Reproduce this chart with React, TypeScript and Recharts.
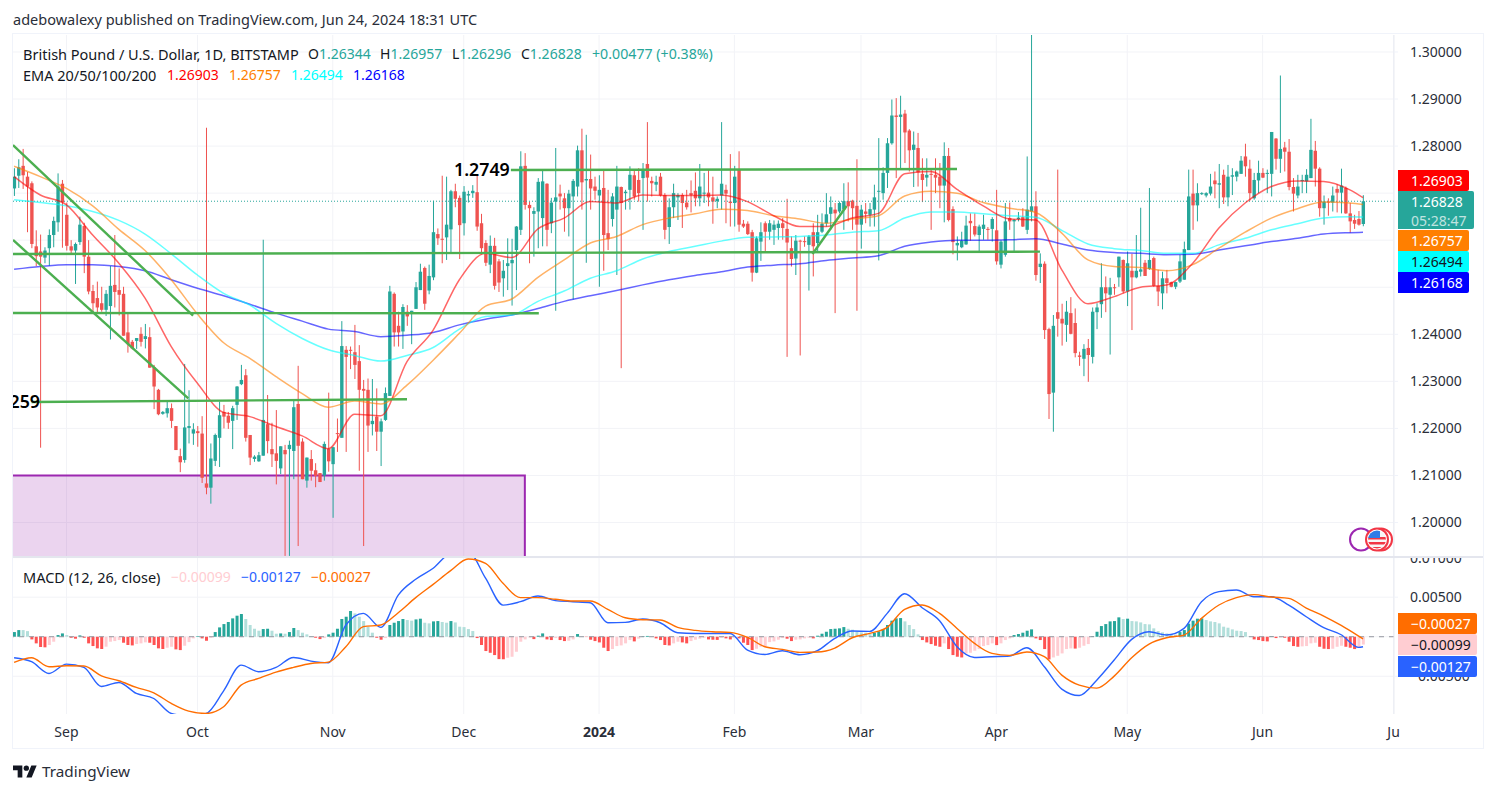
import React from 'react';
import { ComposedChart, Bar, Line, Cell, XAxis, YAxis, CartesianGrid, ReferenceLine, ReferenceArea } from 'recharts';

// day index 0 = 20 Aug 2023, one candle per calendar day up to 24 Jun 2024
const opens = [
  1.2710,1.2737,1.2758,1.2735,1.2721,1.2587,1.2576,1.2563,1.2583,1.2611,
  1.2638,1.2720,1.2654,1.2587,1.2578,1.2596,1.2630,1.2565,1.2492,1.2477,
  1.2466,1.2452,1.2460,1.2505,1.2494,1.2486,1.2404,1.2384,1.2386,1.2401,
  1.2390,1.2394,1.2330,1.2282,1.2231,1.2232,1.2243,1.2205,1.2141,1.2133,
  1.2201,1.2189,1.2194,1.2189,1.2083,1.2074,1.2131,1.2180,1.2235,1.2227,
  1.2216,1.2250,1.2294,1.2313,1.2186,1.2135,1.2130,1.2142,1.2209,1.2156,
  1.2147,1.2115,1.2154,1.2156,1.2152,1.2252,1.2172,1.2089,1.2135,1.2111,
  1.2105,1.2100,1.2157,1.2124,1.2190,1.2180,1.2367,1.2367,1.2362,1.2343,
  1.2284,1.2282,1.2209,1.2225,1.2193,1.2218,1.2269,1.2486,1.2418,1.2406,
  1.2448,1.2447,1.2454,1.2494,1.2541,1.2493,1.2521,1.2613,1.2603,1.2606,
  1.2623,1.2704,1.2690,1.2636,1.2695,1.2700,1.2702,1.2636,1.2594,1.2548,
  1.2588,1.2555,1.2519,1.2545,1.2551,1.2579,1.2622,1.2758,1.2675,1.2656,
  1.2661,1.2647,1.2720,1.2636,1.2682,1.2699,1.2689,1.2668,1.2693,1.2714,
  1.2791,1.2727,1.2730,1.2714,1.2695,1.2711,1.2615,1.2645,1.2665,1.2713,
  1.2700,1.2707,1.2738,1.2728,1.2732,1.2762,1.2726,1.2718,1.2735,1.2696,
  1.2628,1.2670,1.2691,1.2696,1.2680,1.2700,1.2705,1.2689,1.2699,1.2701,
  1.2691,1.2683,1.2695,1.2707,1.2682,1.2679,1.2751,1.2635,1.2635,1.2617,
  1.2531,1.2597,1.2636,1.2618,1.2622,1.2626,1.2636,1.2624,1.2583,1.2561,
  1.2599,1.2598,1.2590,1.2617,1.2594,1.2618,1.2636,1.2656,1.2665,1.2661,
  1.2665,1.2683,1.2684,1.2673,1.2633,1.2661,1.2654,1.2665,1.2704,1.2700,
  1.2743,1.2806,1.2865,1.2862,1.2869,1.2833,1.2792,1.2796,1.2741,1.2733,
  1.2741,1.2739,1.2735,1.2716,1.2779,1.2666,1.2589,1.2585,1.2591,1.2641,
  1.2630,1.2611,1.2624,1.2624,1.2624,1.2621,1.2548,1.2569,1.2647,1.2640,
  1.2645,1.2649,1.2622,1.2661,1.2672,1.2543,1.2550,1.2411,1.2276,1.2447,
  1.2433,1.2420,1.2445,1.2424,1.2355,1.2348,1.2371,1.2352,1.2447,1.2464,
  1.2500,1.2484,1.2500,1.2521,1.2558,1.2491,1.2535,1.2521,1.2533,1.2552,
  1.2539,1.2562,1.2503,1.2487,1.2519,1.2511,1.2501,1.2512,1.2516,1.2579,
  1.2699,1.2674,1.2699,1.2695,1.2699,1.2727,1.2718,1.2739,1.2691,1.2735,
  1.2735,1.2741,1.2778,1.2752,1.2689,1.2727,1.2743,1.2741,1.2741,1.2816,
  1.2773,1.2797,1.2788,1.2713,1.2695,1.2727,1.2725,1.2732,1.2790,1.2752,
  1.2668,1.2682,1.2680,1.2709,1.2701,1.2711,1.2657,1.2643,1.2645,1.26344,
];
const highs = [
  1.2753,1.2772,1.2794,1.2745,1.2725,1.2621,1.2612,1.2585,1.2623,1.2650,
  1.2742,1.2728,1.2680,1.2600,1.2595,1.2650,1.2637,1.2600,1.2505,1.2512,
  1.2501,1.2494,1.2545,1.2611,1.2540,1.2501,1.2445,1.2388,1.2392,1.2415,
  1.2422,1.2415,1.2335,1.2284,1.2237,1.2257,1.2253,1.2205,1.2157,1.2337,
  1.2281,1.2211,1.2205,1.2226,1.2839,1.2168,1.2189,1.2257,1.2250,1.2235,
  1.2248,1.2290,1.2335,1.2326,1.2186,1.2143,1.2150,1.2601,1.2271,1.2212,
  1.2239,1.2162,1.2165,1.2174,1.2262,1.2333,1.2179,1.2138,1.2154,1.2126,
  1.2105,1.2172,1.2276,1.2161,1.2221,1.2428,1.2375,1.2374,1.2420,1.2377,
  1.2303,1.2306,1.2305,1.2285,1.2221,1.2287,1.2503,1.2489,1.2448,1.2464,
  1.2462,1.2450,1.2511,1.2550,1.2544,1.2548,1.2684,1.2625,1.2737,1.2735,
  1.2707,1.2720,1.2695,1.2715,1.2705,1.2717,1.2739,1.2656,1.2600,1.2610,
  1.2605,1.2560,1.2558,1.2604,1.2603,1.2630,1.2789,1.2785,1.2682,1.2670,
  1.2732,1.2750,1.2721,1.2690,1.2796,1.2718,1.2700,1.2707,1.2730,1.2801,
  1.2837,1.2824,1.2782,1.2735,1.2738,1.2748,1.2707,1.2700,1.2758,1.2714,
  1.2707,1.2757,1.2750,1.2753,1.2764,1.2851,1.2735,1.2737,1.2743,1.2700,
  1.2689,1.2720,1.2700,1.2700,1.2707,1.2727,1.2744,1.2762,1.2743,1.2751,
  1.2735,1.2693,1.2851,1.2718,1.2783,1.2758,1.2789,1.2643,1.2640,1.2622,
  1.2608,1.2638,1.2640,1.2643,1.2642,1.2642,1.2647,1.2688,1.2608,1.2611,
  1.2601,1.2608,1.2611,1.2636,1.2654,1.2657,1.2700,1.2693,1.2679,1.2682,
  1.2721,1.2723,1.2686,1.2772,1.2675,1.2679,1.2679,1.2718,1.2817,1.2755,
  1.2817,1.2899,1.2902,1.2907,1.2877,1.2836,1.2831,1.2828,1.2774,1.2774,
  1.2753,1.2774,1.2764,1.2808,1.2796,1.2672,1.2608,1.2618,1.2652,1.2657,
  1.2657,1.2633,1.2654,1.2628,1.2649,1.2707,1.2600,1.2679,1.2680,1.2645,
  1.2660,1.2668,1.2778,1.30361,1.2704,1.2572,1.2555,1.2414,1.2441,1.2750,
  1.2465,1.2471,1.2479,1.2455,1.2363,1.2379,1.2390,1.2457,1.2466,1.2551,
  1.2523,1.2520,1.2507,1.2565,1.2559,1.2576,1.2571,1.2611,1.2669,1.2558,
  1.2711,1.2565,1.2537,1.2533,1.2537,1.2512,1.2512,1.2569,1.2597,1.2750,
  1.2750,1.2721,1.2702,1.2702,1.2741,1.2746,1.2762,1.2750,1.2760,1.2753,
  1.2748,1.2779,1.2805,1.2771,1.2743,1.2769,1.2753,1.2750,1.2830,1.2817,
  1.2950,1.2809,1.2815,1.2732,1.2739,1.2739,1.2751,1.2858,1.2811,1.2755,
  1.2695,1.2689,1.2714,1.2719,1.2752,1.2714,1.2679,1.2654,1.2662,1.26957,
];
const lows = [
  1.2694,1.2711,1.2709,1.2617,1.2583,1.2545,1.2159,1.2551,1.2546,1.2585,
  1.2618,1.2584,1.2578,1.2570,1.2507,1.2590,1.2530,1.2485,1.2445,1.2445,
  1.2448,1.2439,1.2389,1.2457,1.2440,1.2397,1.2361,1.2368,1.2369,1.2374,
  1.2370,1.2329,1.2241,1.2228,1.2229,1.2223,1.2201,1.2154,1.2107,1.2127,
  1.2168,1.2165,1.2161,1.2084,1.2060,1.2040,1.2120,1.2118,1.2200,1.2199,
  1.2156,1.2218,1.2292,1.2172,1.2122,1.2129,1.2129,1.2142,1.2147,1.2118,
  1.2081,1.2103,1.1929,1.1929,1.2092,1.1950,1.2092,1.2074,1.2089,1.2075,
  1.2086,1.2089,1.2108,1.2010,1.2150,1.2180,1.2150,1.2326,1.2305,1.2110,
  1.1950,1.2150,1.2185,1.2152,1.2120,1.2216,1.2269,1.2374,1.2374,1.2369,
  1.2418,1.2379,1.2454,1.2494,1.2452,1.2485,1.2515,1.2590,1.2551,1.2558,
  1.2572,1.2670,1.2560,1.2610,1.2680,1.2690,1.2620,1.2570,1.2545,1.2530,
  1.2495,1.2490,1.2480,1.2494,1.2461,1.2494,1.2611,1.2665,1.2551,1.2565,
  1.2583,1.2587,1.2587,1.2615,1.2450,1.2665,1.2618,1.2608,1.2474,1.2693,
  1.2665,1.2552,1.2665,1.2686,1.2501,1.2535,1.2579,1.2629,1.2526,1.2328,
  1.2665,1.2665,1.2686,1.2682,1.2622,1.2682,1.2693,1.2704,1.2693,1.2602,
  1.2592,1.2647,1.2643,1.2626,1.2665,1.2659,1.2672,1.2672,1.2679,1.2672,
  1.2635,1.2668,1.2665,1.2636,1.2629,1.2629,1.2618,1.2626,1.2611,1.2512,
  1.2530,1.2556,1.2574,1.2601,1.2590,1.2601,1.2601,1.2352,1.2544,1.2526,
  1.2355,1.2586,1.2493,1.2523,1.2576,1.2615,1.2629,1.2622,1.2445,1.2657,
  1.2622,1.2640,1.2622,1.2450,1.2582,1.2636,1.2629,1.2629,1.2557,1.2686,
  1.2711,1.2803,1.2732,1.2750,1.2764,1.2746,1.2713,1.2714,1.2681,1.2714,
  1.2622,1.2700,1.2668,1.2638,1.2640,1.2570,1.2557,1.2583,1.2590,1.2599,
  1.2608,1.2576,1.2601,1.2601,1.2597,1.2548,1.2540,1.2565,1.2622,1.2576,
  1.2640,1.2628,1.2613,1.2640,1.2514,1.2509,1.2390,1.2220,1.2193,1.2395,
  1.2376,1.2384,1.2400,1.2351,1.2333,1.2311,1.2299,1.2338,1.2411,1.2435,
  1.2447,1.2357,1.2484,1.2501,1.2487,1.2460,1.2409,1.2519,1.2523,1.2524,
  1.2537,1.2501,1.2460,1.2453,1.2487,1.2500,1.2496,1.2509,1.2516,1.2579,
  1.2622,1.2640,1.2696,1.2691,1.2695,1.2689,1.2668,1.2677,1.2672,1.2696,
  1.2725,1.2741,1.2735,1.2684,1.2686,1.2700,1.2732,1.2700,1.2693,1.2750,
  1.2743,1.2746,1.2706,1.2661,1.2689,1.2700,1.2700,1.2732,1.2714,1.2650,
  1.2633,1.2652,1.2661,1.2659,1.2657,1.2656,1.2616,1.2624,1.2631,1.26296,
];
const closes = [
  1.2735,1.2755,1.2738,1.2714,1.2592,1.2566,1.2565,1.2578,1.2611,1.2641,
  1.2714,1.2681,1.2588,1.2578,1.2592,1.2633,1.2565,1.2491,1.2466,1.2457,
  1.2452,1.2486,1.2503,1.2490,1.2484,1.2397,1.2379,1.2370,1.2392,1.2384,
  1.2396,1.2329,1.2289,1.2230,1.2235,1.2243,1.2216,1.2154,1.2128,1.2202,
  1.2205,1.2198,1.2190,1.2095,1.2074,1.2136,1.2186,1.2228,1.2225,1.2212,
  1.2243,1.2289,1.2303,1.2180,1.2138,1.2140,1.2143,1.2218,1.2173,1.2145,
  1.2131,1.2162,1.2145,1.2165,1.2245,1.2163,1.2092,1.2138,1.2110,1.2099,
  1.2086,1.2167,1.2130,1.2160,1.2189,1.2375,1.2352,1.2365,1.2335,1.2282,
  1.2280,1.2206,1.2216,1.2193,1.2215,1.2275,1.2491,1.2404,1.2404,1.2458,
  1.2438,1.2450,1.2500,1.2533,1.2465,1.2524,1.2617,1.2604,1.2602,1.2633,
  1.2704,1.2688,1.2632,1.2703,1.2698,1.2705,1.2629,1.2583,1.2552,1.2588,
  1.2503,1.2510,1.2535,1.2551,1.2558,1.2629,1.2757,1.2675,1.2668,1.2662,
  1.2724,1.2725,1.2622,1.2680,1.2691,1.2693,1.2668,1.2699,1.2726,1.2791,
  1.2723,1.2730,1.2710,1.2705,1.2707,1.2611,1.2602,1.2693,1.2714,1.2679,
  1.2703,1.2739,1.2693,1.2700,1.2751,1.2733,1.2721,1.2724,1.2695,1.2622,
  1.2670,1.2700,1.2696,1.2679,1.2670,1.2696,1.2689,1.2714,1.2701,1.2691,
  1.2682,1.2688,1.2720,1.2699,1.2679,1.2735,1.2633,1.2629,1.2613,1.2531,
  1.2604,1.2617,1.2618,1.2636,1.2633,1.2635,1.2626,1.2595,1.2560,1.2599,
  1.2597,1.2596,1.2608,1.2587,1.2617,1.2635,1.2655,1.2670,1.2657,1.2679,
  1.2683,1.2672,1.2668,1.2633,1.2665,1.2656,1.2666,1.2691,1.2705,1.2743,
  1.2806,1.2865,1.2862,1.2867,1.2829,1.2791,1.2803,1.2744,1.2728,1.2739,
  1.2740,1.2733,1.2716,1.2779,1.2643,1.2596,1.2594,1.2599,1.2631,1.2636,
  1.2612,1.2629,1.2633,1.2623,1.2645,1.2555,1.2597,1.2640,1.2640,1.2643,
  1.2648,1.2629,1.2665,1.2672,1.2526,1.2550,1.2409,1.2273,1.2418,1.2433,
  1.2423,1.2448,1.2401,1.2360,1.2352,1.2369,1.2356,1.2448,1.2457,1.2500,
  1.2487,1.2500,1.2499,1.2565,1.2491,1.2551,1.2521,1.2535,1.2538,1.2524,
  1.2558,1.2503,1.2491,1.2519,1.2509,1.2501,1.2511,1.2555,1.2581,1.2693,
  1.2674,1.2700,1.2700,1.2700,1.2714,1.2719,1.2721,1.2691,1.2735,1.2738,
  1.2746,1.2769,1.2757,1.2700,1.2728,1.2743,1.2733,1.2743,1.2830,1.2773,
  1.2794,1.2788,1.2713,1.2699,1.2714,1.2728,1.2739,1.2792,1.2752,1.2668,
  1.2682,1.2680,1.2695,1.2701,1.2716,1.2657,1.2640,1.2635,1.2633,1.26828,
];

// EMA readings, one every six days plus the last day
const emaDays = [0,6,12,18,24,30,36,42,48,54,60,66,72,78,84,90,96,102,108,114,120,126,132,138,144,150,156,162,168,174,180,186,192,198,204,210,216,222,228,234,240,246,252,258,264,270,276,282,288,294,300,306,309];
const ema20 = [1.2735,1.2696,1.2675,1.2611,1.2551,1.2477,1.2374,1.2296,1.2234,1.2225,1.2204,1.2184,1.2157,1.2230,1.2227,1.2342,1.2409,1.2516,1.2572,1.2563,1.2624,1.2647,1.2682,1.2679,1.2696,1.2695,1.2695,1.2696,1.2682,1.2652,1.2629,1.2629,1.2647,1.2657,1.2741,1.2746,1.2708,1.2673,1.2645,1.2643,1.2537,1.2465,1.2480,1.2500,1.2505,1.2551,1.2626,1.2679,1.2714,1.2726,1.2725,1.2707,1.26903];
const ema50 = [1.2757,1.2735,1.2710,1.2673,1.2623,1.2578,1.2516,1.2443,1.2382,1.2349,1.2310,1.2274,1.2245,1.2258,1.2252,1.2292,1.2345,1.2402,1.2460,1.2475,1.2521,1.2558,1.2594,1.2608,1.2633,1.2647,1.2656,1.2666,1.2663,1.2652,1.2645,1.2636,1.2645,1.2652,1.2694,1.2704,1.2700,1.2680,1.2668,1.2659,1.2615,1.2558,1.2544,1.2542,1.2535,1.2548,1.2583,1.2617,1.2647,1.2667,1.2681,1.2679,1.26757];
const ema100 = [1.2686,1.2680,1.2673,1.2661,1.2642,1.2613,1.2571,1.2526,1.2487,1.2462,1.2423,1.2391,1.2367,1.2355,1.2343,1.2355,1.2372,1.2411,1.2438,1.2441,1.2470,1.2492,1.2519,1.2535,1.2560,1.2576,1.2587,1.2598,1.2606,1.2607,1.2608,1.2611,1.2617,1.2620,1.2647,1.2660,1.2660,1.2656,1.2652,1.2649,1.2621,1.2592,1.2582,1.2578,1.2572,1.2572,1.2590,1.2604,1.2622,1.2635,1.2647,1.2650,1.26494];
const ema200 = [1.2538,1.2544,1.2548,1.2548,1.2544,1.2535,1.2516,1.2498,1.2482,1.2464,1.2445,1.2428,1.2411,1.2406,1.2395,1.2398,1.2404,1.2420,1.2432,1.2441,1.2455,1.2470,1.2482,1.2493,1.2505,1.2516,1.2525,1.2533,1.2543,1.2547,1.2550,1.2557,1.2562,1.2567,1.2587,1.2596,1.2600,1.2600,1.2601,1.2603,1.2592,1.2579,1.2574,1.2572,1.2569,1.2570,1.2579,1.2588,1.2597,1.2604,1.2613,1.2616,1.26168];

// MACD readings, one every four days plus the last day
const macdDays = [0,4,8,12,16,20,24,28,32,36,40,44,48,52,56,60,64,68,72,76,80,84,88,92,96,100,104,108,112,116,120,124,128,132,136,140,144,148,152,156,160,164,168,172,176,180,184,188,192,196,200,204,208,212,216,220,224,228,232,236,240,244,248,252,256,260,264,268,272,276,280,284,288,292,296,300,304,308,309];
const macdLine = [-0.00266,-0.00316,-0.00464,-0.00346,-0.00388,-0.00629,-0.00578,-0.00717,-0.00781,-0.0097,-0.01,-0.0097,-0.00684,-0.00359,-0.00443,-0.00388,-0.00262,-0.00308,-0.00329,0.00148,0.00295,0.00118,0.00527,0.00726,0.00865,0.01055,0.0108,0.0074,0.004,0.00443,0.00515,0.00456,0.00443,0.0043,0.00177,0.00181,0.00224,0.00177,0.0005,0.0004,0.0004,0.0004,-0.00169,-0.00224,-0.00177,-0.00228,-0.00177,-0.0002,0.00072,0.00068,0.00295,0.00544,0.00367,0.00203,-0.00127,-0.00262,-0.00253,-0.00245,-0.00139,-0.0038,-0.00662,-0.00743,-0.00549,-0.00295,-0.00034,0.00063,0.00021,0.00105,0.00443,0.0057,0.0059,0.00506,0.00506,0.004,0.00253,0.00114,0.00025,-0.00135,-0.00127];
const signalLine = [-0.00325,-0.00266,-0.0038,-0.00367,-0.00371,-0.00494,-0.00557,-0.00641,-0.00709,-0.00844,-0.00941,-0.0097,-0.00886,-0.00612,-0.00527,-0.00447,-0.00388,-0.00338,-0.00321,-0.00127,0.00127,0.00148,0.00304,0.00494,0.00662,0.00835,0.00983,0.00928,0.00675,0.00494,0.00494,0.00473,0.00451,0.00451,0.00346,0.0024,0.00215,0.00211,0.00118,0.0008,0.00063,0.00055,-0.00008,-0.00127,-0.0016,-0.00198,-0.00194,-0.00143,-0.00013,0.00042,0.00118,0.00346,0.00401,0.00295,0.00105,-0.00084,-0.00211,-0.00236,-0.00194,-0.00253,-0.00485,-0.00612,-0.0065,-0.00498,-0.00266,-0.00093,-0.00013,0.00021,0.00232,0.00401,0.00494,0.00532,0.00502,0.00485,0.00363,0.00262,0.00143,0.00008,-0.00027];

// histogram in units of 0.00001
const histE5 = [
  59,84,84,71,-34,-84,-130,-134,-105,-63,
  21,42,21,-13,-25,17,-13,-84,-118,-147,
  -155,-126,-63,-55,-42,-76,-105,-110,-92,-84,
  -71,-76,-105,-147,-155,-139,-127,-160,-169,-114,
  -68,-21,8,-21,-51,-13,59,118,160,186,
  232,266,287,224,148,101,76,97,101,76,
  38,42,38,59,110,84,51,30,8,-13,
  -30,-17,30,51,101,224,253,325,295,253,
  198,127,51,-13,-38,-17,148,177,198,224,
  211,203,219,228,177,169,194,198,186,177,
  198,181,127,122,97,72,-17,-105,-181,-203,
  -232,-283,-285,-266,-253,-190,-63,-34,-8,-30,
  13,42,-34,-42,-17,-42,-55,-51,-34,34,
  4,-4,-38,-55,-72,-139,-181,-156,-118,-110,
  -84,-42,-59,-25,8,10,4,-21,-42,-105,
  -110,-84,-63,-72,-84,-55,-38,-25,-13,-34,
  -38,-40,-13,-21,-34,-8,-21,-76,-105,-169,
  -152,-127,-118,-68,-59,-38,-17,-25,-55,-38,
  -34,-21,-13,-21,13,38,63,97,101,106,
  122,101,89,63,55,51,34,51,68,93,
  148,203,232,236,194,148,97,30,-42,-72,
  -93,-114,-127,-84,-156,-232,-253,-262,-211,-203,
  -177,-156,-118,-106,-84,-106,-84,-42,-21,21,
  34,51,76,93,-21,-42,-156,-287,-262,-241,
  -211,-156,-148,-150,-139,-114,-93,8,63,135,
  160,194,198,245,224,228,198,194,181,160,
  156,106,72,55,42,34,25,59,84,165,
  203,228,232,211,194,186,169,127,114,93,
  76,72,59,8,-34,-42,-55,-59,8,-17,
  -8,-13,-63,-118,-127,-122,-118,-84,-76,-127,
  -152,-156,-152,-127,-114,-127,-139,-156,-135,-99,
];

const monthDays = [12,42,73,103,134,165,194,225,255,286,316];
const monthLabels = ['Sep','Oct','Nov','Dec','2024','Feb','Mar','Apr','May','Jun','Ju'];
const priceGrid = [1.3,1.29,1.28,1.27,1.26,1.25,1.24,1.23,1.22,1.21,1.2];
const priceTicks = [1.3,1.29,1.28,1.24,1.23,1.22,1.21,1.2]; // the others sit under the price tags
const macdGrid = [0.01,0.005,0,-0.005];
const macdTicks = [0.01,0.005,-0.005];

// drawn trend lines: [day1, price1, day2, price2]
const trendLines = [
  [113.8,1.27492,216,1.27513],
  [-0.25,1.25707,235,1.25756],
  [-0.25,1.24453,120.2,1.24447],
  [4,1.22561,90,1.22619],
  [-0.25,1.28023,41,1.24395],
  [-0.25,1.26004,39.9,1.2264],
  [182.9,1.25707,190.7,1.26727],
];

const FONT = '"Noto Sans", sans-serif';
const UP = '#26a69a';
const DOWN = '#ef5350';
const xDomain: [number, number] = [-0.25, 316.1];

const priceData = opens.map((o, i) => {
  const at = emaDays.indexOf(i);
  return {
    d: i, o, h: highs[i], l: lows[i], c: closes[i],
    e20: at >= 0 ? ema20[at] : null,
    e50: at >= 0 ? ema50[at] : null,
    e100: at >= 0 ? ema100[at] : null,
    e200: at >= 0 ? ema200[at] : null,
  };
});

const macdData = histE5.map((v, i) => {
  const at = macdDays.indexOf(i);
  return { d: i, hist: v / 100000, macd: at >= 0 ? macdLine[at] : null, signal: at >= 0 ? signalLine[at] : null };
});

const histColor = (i: number) => {
  const v = histE5[i];
  const rising = i === 0 || v > histE5[i - 1];
  if (v >= 0) return rising ? '#26a69a' : '#b2dfdb';
  return rising ? '#ffcdd2' : '#ff5252';
};

const Candle = (props: any) => {
  const { x, y, width, height, payload } = props;
  const top = Math.min(y, y + height);
  const span = Math.abs(height);
  const range = payload.h - payload.l || 1;
  const yOf = (p: number) => top + ((payload.h - p) / range) * span;
  const cx = x + width / 2;
  const color = payload.c >= payload.o ? UP : DOWN;
  const bodyTop = yOf(Math.max(payload.o, payload.c));
  const bodyH = Math.max(1, yOf(Math.min(payload.o, payload.c)) - bodyTop);
  return (
    <g>
      <rect x={cx - 0.5} y={top} width={1} height={span} fill={color} />
      <rect x={cx - 1.7} y={bodyTop} width={3.4} height={bodyH} fill={color} />
    </g>
  );
};

const TimeTick = (props: any) => {
  const { x, payload } = props;
  const label = monthLabels[monthDays.indexOf(payload.value)];
  return (
    <text x={x} y={180} textAnchor="middle" fontFamily={FONT} fontSize={14} fontWeight={label === '2024' ? 700 : 400} fill="#2a2e39">
      {label}
    </text>
  );
};

const Tag = ({ top, height, width, bg, color, text, sub }: any) => (
  <div style={{ position: 'absolute', left: 1398, top, width, height, boxSizing: 'border-box', paddingLeft: 13, background: bg, color, borderRadius: '0 2px 2px 0', fontFamily: FONT, fontSize: 14, lineHeight: '21px' }}>
    {text}
    {sub && <div style={{ opacity: 0.7, lineHeight: '18px' }}>{sub}</div>}
  </div>
);

const Txt = ({ left, top, color = '#131722', size = 14, weight = 400, children }: any) => (
  <div style={{ position: 'absolute', left, top, color, fontFamily: FONT, fontSize: size, fontWeight: weight, lineHeight: '20px', whiteSpace: 'nowrap' }}>
    {children}
  </div>
);

export default function App() {
  return (
    <div style={{ position: 'absolute', left: 0, top: 0, width: 1496, height: 793, background: '#fff', overflow: 'hidden' }}>
      <Txt left={13} top={9} color="#2a2e39" size={14.5}>adebowalexy published on TradingView.com, Jun 24, 2024 18:31 UTC</Txt>

      <div style={{ position: 'absolute', left: 0, top: 0 }}>
        <ComposedChart width={1496} height={793} data={priceData} margin={{ top: 35, right: 0, bottom: 237, left: 13 }}>
          <CartesianGrid stroke="#f2f3f7" horizontalValues={priceGrid} verticalValues={monthDays} />
          <XAxis dataKey="d" type="number" domain={xDomain} allowDataOverflow hide ticks={monthDays} />
          <YAxis
            orientation="right"
            width={102}
            domain={[1.19288, 1.30361]}
            allowDataOverflow
            ticks={priceTicks}
            interval={0}
            tickSize={4}
            tickMargin={12}
            tickLine={{ stroke: '#f0f3fa' }}
            axisLine={{ stroke: '#e9ebf2' }}
            tick={{ fontFamily: FONT, fontSize: 14, fill: '#2a2e39', textAnchor: 'start' }}
            tickFormatter={(v: number) => v.toFixed(5)}
          />
          <ReferenceArea x1={-3} x2={117} y1={1.21} y2={1.18} fill="#9c27b0" fillOpacity={0.2} stroke="#9c27b0" strokeWidth={2} ifOverflow="hidden" />
          <ReferenceLine y={1.26828} stroke={UP} strokeDasharray="1 2" />
          <Bar dataKey={(r: any) => [r.l, r.h]} barSize={3} shape={Candle} isAnimationActive={false} />
          <Line dataKey="e200" type="monotone" connectNulls dot={false} stroke="#0000ff" strokeOpacity={0.6} strokeWidth={1.5} isAnimationActive={false} />
          <Line dataKey="e100" type="monotone" connectNulls dot={false} stroke="#00ffff" strokeOpacity={0.6} strokeWidth={1.5} isAnimationActive={false} />
          <Line dataKey="e50" type="monotone" connectNulls dot={false} stroke="#ff7f00" strokeOpacity={0.6} strokeWidth={1.5} isAnimationActive={false} />
          <Line dataKey="e20" type="monotone" connectNulls dot={false} stroke="#ff0000" strokeOpacity={0.6} strokeWidth={1.5} isAnimationActive={false} />
          {trendLines.map((t, i) => (
            <ReferenceLine key={i} segment={[{ x: t[0], y: t[1] }, { x: t[2], y: t[3] }]} stroke="#4caf50" strokeWidth={2.4} ifOverflow="hidden" />
          ))}
        </ComposedChart>
      </div>

      <div style={{ position: 'absolute', left: 0, top: 557 }}>
        <ComposedChart width={1496} height={192} data={macdData} margin={{ top: 0, right: 0, bottom: 0, left: 13 }}>
          <CartesianGrid stroke="#f2f3f7" horizontalValues={macdGrid} verticalValues={monthDays} />
          <XAxis dataKey="d" type="number" domain={xDomain} allowDataOverflow ticks={monthDays} interval={0} height={35} tickSize={0} axisLine={false} tick={<TimeTick />} />
          <YAxis
            orientation="right"
            width={102}
            domain={[-0.00977, 0.01008]}
            allowDataOverflow
            ticks={macdTicks}
            interval={0}
            tickSize={4}
            tickMargin={12}
            tickLine={{ stroke: '#f0f3fa' }}
            axisLine={{ stroke: '#e9ebf2' }}
            tick={{ fontFamily: FONT, fontSize: 14, fill: '#2a2e39', textAnchor: 'start' }}
            tickFormatter={(v: number) => (v < 0 ? '\u2212' : '') + Math.abs(v).toFixed(5)}
          />
          <ReferenceLine y={0} stroke="#9598a1" strokeDasharray="5 5" />
          <Bar dataKey="hist" barSize={3} isAnimationActive={false}>
            {macdData.map((r, i) => <Cell key={r.d} fill={histColor(i)} />)}
          </Bar>
          <Line dataKey="macd" type="monotone" connectNulls dot={false} stroke="#2962ff" strokeWidth={1.4} isAnimationActive={false} />
          <Line dataKey="signal" type="monotone" connectNulls dot={false} stroke="#ff6d00" strokeWidth={1.4} isAnimationActive={false} />
        </ComposedChart>
      </div>

      {/* chart frame and pane separator */}
      <div style={{ position: 'absolute', left: 12, top: 33, width: 1470, height: 714, border: '1.5px solid #f0f3fa' }} />
      <div style={{ position: 'absolute', left: 13, top: 556, width: 1470, height: 1.5, background: '#e4e6ee' }} />

      {/* legends */}
      <Txt left={23} top={44} size={14.5}>British Pound / U.S. Dollar, 1D, BITSTAMP</Txt>
      <Txt left={308} top={44}>O<span style={{ color: UP }}>1.26344</span></Txt>
      <Txt left={380} top={44}>H<span style={{ color: UP }}>1.26957</span></Txt>
      <Txt left={452} top={44}>L<span style={{ color: UP }}>1.26296</span></Txt>
      <Txt left={521} top={44}>C<span style={{ color: UP }}>1.26828</span></Txt>
      <Txt left={592} top={44} color={UP} size={14.2}>+0.00477 (+0.38%)</Txt>
      <Txt left={23} top={65} size={14.5}>EMA 20/50/100/200</Txt>
      <Txt left={167} top={65} color="#ff0000">1.26903</Txt>
      <Txt left={229} top={65} color="#ff7f00">1.26757</Txt>
      <Txt left={291} top={65} color="#00ffff">1.26494</Txt>
      <Txt left={353} top={65} color="#0000ff">1.26168</Txt>
      <Txt left={23} top={567} size={14.5}>MACD (12, 26, close)</Txt>
      <Txt left={171} top={567} color="#ffcdd2">{'\u22120.00099'}</Txt>
      <Txt left={241} top={567} color="#2962ff">{'\u22120.00127'}</Txt>
      <Txt left={311} top={567} color="#ff6d00">{'\u22120.00027'}</Txt>

      {/* trend line captions */}
      <Txt left={454} top={159} color="#000" size={17.8} weight={600}>1.2749</Txt>
      <div style={{ position: 'absolute', left: 13, top: 391, width: 27, overflow: 'hidden', direction: 'rtl' }}>
        <span style={{ color: '#000', fontFamily: FONT, fontSize: 17.8, fontWeight: 600, lineHeight: '20px' }}>259</span>
      </div>

      {/* price tags */}
      <Tag top={170} height={21} width={71} bg="#ff0000" color="#fff" text="1.26903" />
      <Tag top={191} height={38} width={76} bg={UP} color="#fff" text="1.26828" sub="05:28:47" />
      <Tag top={229.5} height={21} width={71} bg="#ff7f00" color="#fff" text="1.26757" />
      <Tag top={250.5} height={21} width={71} bg="#00ffff" color="#131722" text="1.26494" />
      <Tag top={271.5} height={21} width={71} bg="#0000ff" color="#fff" text="1.26168" />
      <Tag top={613} height={21} width={79} bg="#ff6d00" color="#fff" text={'\u22120.00027'} />
      <Tag top={634} height={21} width={79} bg="#ffcdd2" color="#131722" text={'\u22120.00099'} />
      <Tag top={655.5} height={21} width={79} bg="#2962ff" color="#fff" text={'\u22120.00127'} />

      {/* event icons */}
      <svg style={{ position: 'absolute', left: 1348, top: 526 }} width={46} height={28}>
        <circle cx={13} cy={13.5} r={11} fill="#fff" stroke="#9c27b0" strokeWidth={2} />
        <circle cx={33} cy={13.5} r={11} fill="#fff" stroke="#f23645" strokeWidth={2} />
        <circle cx={29} cy={13.5} r={11} fill="#fff" stroke="#f23645" strokeWidth={2} />
        <clipPath id="flag"><circle cx={29} cy={13.5} r={9} /></clipPath>
        <g clipPath="url(#flag)">
          <rect x={20} y={4} width={18} height={19} fill="#f6f6f6" />
          <rect x={20} y={11} width={18} height={2.5} fill="#f23645" />
          <rect x={20} y={16} width={18} height={2.5} fill="#f23645" />
          <rect x={20} y={21} width={18} height={2.5} fill="#f23645" />
          <rect x={20} y={4} width={12} height={8} fill="#2e7ce6" />
        </g>
      </svg>

      {/* TradingView mark */}
      <svg style={{ position: 'absolute', left: 13, top: 765 }} width={24} height={13} viewBox="0 4 36 18">
        <path d="M14 22H7V11H0V4h14v18zM28 22h-8l7.5-18h8L28 22z" fill="#131722" />
        <circle cx={20} cy={8} r={4} fill="#131722" />
      </svg>
      <Txt left={42} top={761} color="#2a2e39" size={15.3}>TradingView</Txt>
    </div>
  );
}
